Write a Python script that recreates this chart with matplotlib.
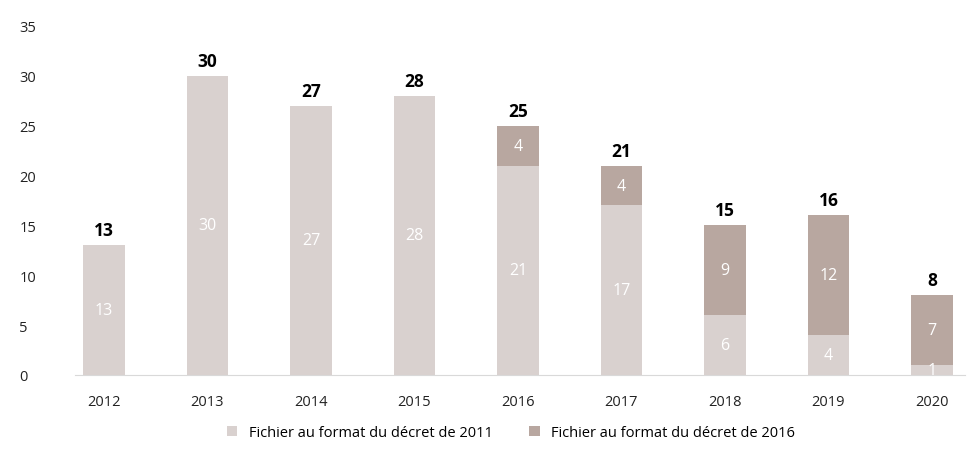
import numpy as np
import matplotlib
matplotlib.use("Agg")
import matplotlib.pyplot as plt

years = ["2012", "2013", "2014", "2015", "2016", "2017", "2018", "2019", "2020"]
decret_2011 = [13, 30, 27, 28, 21, 17, 6, 4, 1]
decret_2016 = [0, 0, 0, 0, 4, 4, 9, 12, 7]
totals = [13, 30, 27, 28, 25, 21, 15, 16, 8]

light = "#d9d1cf"
dark = "#b8a7a0"

plt.rcParams['font.family'] = ['Open Sans', 'DejaVu Sans']

fig = plt.figure(figsize=(9.71, 4.52), dpi=100)
ax = fig.add_axes([75 / 971, (452 - 376) / 452, (965 - 75) / 971, (376 - 27) / 452])

x = np.arange(len(years))
w = 0.4
ax.bar(x, decret_2011, width=w, color=light, label="Fichier au format du décret de 2011")
ax.bar(x, decret_2016, width=w, bottom=decret_2011, color=dark,
       label="Fichier au format du décret de 2016")

for i in range(len(years)):
    if decret_2011[i] > 0:
        ax.text(x[i], decret_2011[i] / 2, str(decret_2011[i]), ha="center", va="center",
                color="white", fontsize=11.5)
    if decret_2016[i] > 0:
        ax.text(x[i], decret_2011[i] + decret_2016[i] / 2, str(decret_2016[i]),
                ha="center", va="center", color="white", fontsize=11.5)
    ax.text(x[i], totals[i] + 0.6, str(totals[i]), ha="center", va="bottom",
            fontsize=12.5, fontweight="bold", color="black")

ax.set_xlim(-0.28, 8.32)
ax.set_ylim(0, 35)
ax.set_yticks(range(0, 36, 5))
ax.set_xticks(x)
ax.set_xticklabels(years)
ax.tick_params(axis="both", length=0, labelsize=10.5, colors="#222222")
ax.tick_params(axis="x", pad=14)
ax.tick_params(axis="y", pad=40)
for lbl in ax.get_yticklabels():
    lbl.set_horizontalalignment("left")

for s in ["top", "right", "left"]:
    ax.spines[s].set_visible(False)
ax.spines["bottom"].set_color("#d9d9d9")

ax.legend(loc="center", bbox_to_anchor=(0.49, -0.165), ncol=2, frameon=False,
          fontsize=10.5, handlelength=0.7, handleheight=0.7, columnspacing=2.5)

fig.savefig("out.png", dpi=100)
